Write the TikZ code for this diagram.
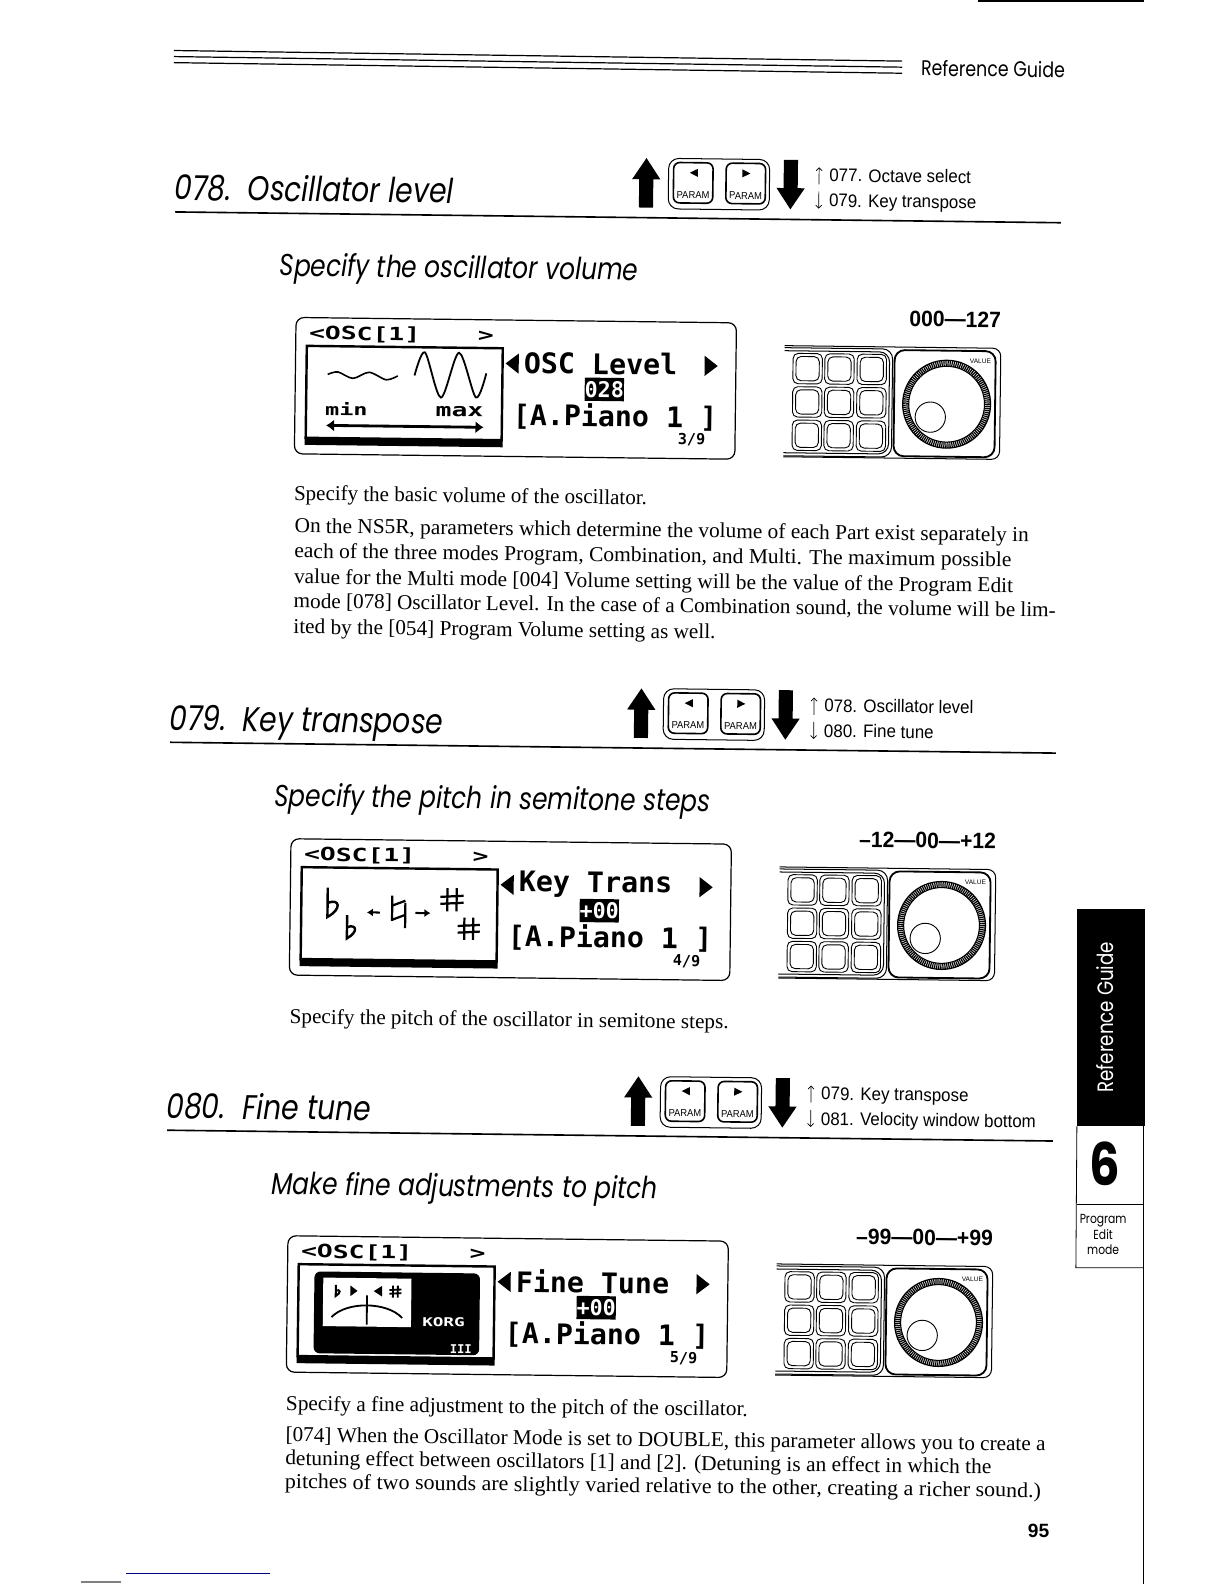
\documentclass[tikz,border=0pt]{standalone}
\usepackage{fontspec}
\usepackage{tikz}
\usetikzlibrary{arrows.meta}
\setmainfont{Liberation Serif}
\newfontfamily\headfont[FakeStretch=0.82]{Poppins}
\newfontfamily\helvfont{Liberation Sans}
\newfontfamily\navfont[FakeStretch=0.93]{Liberation Sans}
\newfontfamily\lcdfont{DejaVu Sans Mono}
\newfontfamily\lcdwide[FakeStretch=1.45]{DejaVu Sans Mono}
\newcommand{\fsz}[1]{\fontsize{#1}{#1}\selectfont}
\newcommand{\flatglyph}[4]{\draw [line width=#4] (#1,#2) -- (#1,#2+#3) .. controls (#1+0.5*#3,#2+0.72*#3) and (#1+0.42*#3,#2+0.35*#3) .. (#1,#2+0.52*#3);}
\newcommand{\sharpglyph}[4]{\draw [line width=#4] (#1+0.3*#3,#2) -- (#1+0.3*#3,#2+#3) (#1+0.7*#3,#2) -- (#1+0.7*#3,#2+#3) (#1,#2+0.38*#3) -- (#1+#3,#2+0.32*#3) (#1,#2+0.68*#3) -- (#1+#3,#2+0.62*#3);}

\begin{document}
\begin{tikzpicture}[x=1pt,y=-1pt,
  tilted/.style={rotate around={-0.7:(600,320)},transform shape},
  titletext/.style={anchor=base west,inner sep=0pt,font=\headfont\itshape\fsz{34}},
  subtext/.style={anchor=base west,inner sep=0pt,font=\headfont\itshape\fsz{30}},
  navtext/.style={anchor=base west,inner sep=0pt,font=\navfont\fsz{18}},
  bodytext/.style={anchor=base west,inner sep=0pt,font=\fsz{21}\addfontfeature{FakeStretch=#1}},
  bodytext/.default=1,
  lcdtext/.style={inner sep=0pt,font=\lcdfont\bfseries\fsz{28}},
  lcdhead/.style={inner sep=0pt,font=\lcdwide\bfseries\fsz{18}},
  keybtn/.style={draw,line width=0.9pt,rounded corners=5pt},
  panelline/.style={line width=1pt,rounded corners=10pt}]
\useasboundingbox (0,0) rectangle (1212,1568);

% page furniture
\draw [line width=1.5pt] (968,1) -- (1132,1);
\draw [line width=1pt] (1132,900) -- (1132,1568);
\draw [line width=1pt,color=blue!50!black] (125,1558) -- (267,1558);
\draw [line width=1.2pt,color=gray] (80,1566) -- (120,1566);
\foreach \y in {50,56,62}
\draw [line width=1.2pt] (172,\y) -- (893,\y+10.5);
\node [rotate=-0.7,inner sep=0pt,font=\headfont\fsz{21}] (guidehead) at (983,68) {Reference Guide};

% side tab
\fill (1066,900) rectangle (1133,1115);
\node [rotate=90,inner sep=0pt,text=white,font=\headfont\fsz{22}] (guidetab) at (1094,1007) {Reference Guide};
\draw [line width=0.8pt] (1066,1115) -- (1065,1255) -- (1132,1255);
\draw [line width=0.8pt] (1066,1192) -- (1132,1192);
\node [inner sep=0pt,font=\headfont\bfseries\fsz{58}] (tabsix) at (1094,1152) {6};
\node [inner sep=0pt,align=center,font=\headfont\fontsize{13}{15}\selectfont] (tabmode) at (1092,1222) {Program\\Edit\\mode};

\foreach \hx/\hy/\px/\py/\secno/\sectitle/\subtitle/\upitem/\downitem/\valrange/\param/\curval/\pageno in {
0/0/0/0/078./Oscillator level/Specify the oscillator volume/077. Octave select/079. Key transpose/000—127/OSC Level/028/3,
-5/525/-5/516/079./Key transpose/Specify the pitch in semitone steps/078. Oscillator level/080. Fine tune/–12—00—+12/Key Trans/+00/4,
-8/909/-8/909/080./Fine tune/Make fine adjustments to pitch/079. Key transpose/081. Velocity window bottom/–99—00—+99/Fine Tune/+00/5}
{
\begin{scope}[shift={(\hx,\hy)},tilted]
\draw [line width=1.6pt] (172,215) -- (1049,215);
\node [titletext] (title\pageno) at (171,203) {\secno\ \ \sectitle};
\node [subtext] (sub\pageno) at (276,277) {\subtitle};
% up arrow, param keys, down arrow
\fill (638,156) -- (652,177) -- (645,177) -- (645,205) -- (631,205) -- (631,177) -- (624,177) -- cycle;
\draw [line width=1pt,rounded corners=10pt] (660,156) rectangle (760,206);
\foreach \kx in {665,717}
\draw [line width=1.6pt,rounded corners=6pt] (\kx,160) rectangle ++(39,40);
\fill (689,166) -- (689,174) -- (681,170) -- cycle;
\fill (733,166) -- (733,174) -- (741,170) -- cycle;
\node [inner sep=0pt,font=\navfont\fsz{10}] (keyleft\pageno) at (684.5,192) {PARAM};
\node [inner sep=0pt,font=\navfont\fsz{10}] (keyright\pageno) at (736.5,192) {PARAM};
\fill (781,205) -- (795,184) -- (788,184) -- (788,156) -- (774,156) -- (774,184) -- (767,184) -- cycle;
% cross references
\draw [-{Straight Barb[length=3pt,width=6pt]},line width=0.7pt] (809,180) -- (809,163);
\draw [-{Straight Barb[length=3pt,width=6pt]},line width=0.7pt] (809,187) -- (809,204);
\node [navtext] (upref\pageno) at (819,177) {\upitem};
\node [navtext] (downref\pageno) at (819,202) {\downitem};
\end{scope}
\begin{scope}[shift={(\px,\py)},tilted]
% lcd
\draw [line width=1.2pt,rounded corners=8pt] (293,318) rectangle (729,453);
\node [lcdhead,anchor=west] (lcdname\pageno) at (306,334) {<OSC[1]};
\node [lcdhead] (lcdmore\pageno) at (481,334) {>};
\draw [line width=2.4pt] (304,346) rectangle (498,437);
\fill (303,437) rectangle (499,444);
\fill (501,361) -- (514,351) -- (514,371) -- cycle;
\fill (698,351) -- (698,371) -- (711,361) -- cycle;
\node [lcdtext,anchor=west] (param\pageno) at (519,360) {\param};
\node [fill=black,text=white,inner sep=0pt,minimum width=38pt,minimum height=23pt,font=\lcdfont\bfseries\fsz{21.5}] (value\pageno) at (599,385.5) {\curval};
\node [lcdtext] (prog\pageno) at (610,412.5) {[A.Piano 1 ]};
\node [inner sep=0pt,font=\lcdfont\bfseries\fsz{15}] (page\pageno) at (686,434.5) {\pageno/9};
% value dial
\node [anchor=east,inner sep=0pt,font=\helvfont\bfseries\fsz{22}\addfontfeature{FakeStretch=0.95}] (range\pageno) at (991,312) {\valrange};
\draw [line width=1pt] (777,340) -- (980,340) [rounded corners=8pt] -- (991,340) -- (991,450) -- (777,450);
\draw [panelline] (777,342) -- (884,342) -- (884,449) -- (777,449);
\draw [panelline] (777,345) -- (881,345) -- (881,446) -- (777,446);
\draw [line width=1.8pt,rounded corners=10pt] (886,343) rectangle (986,448);
\foreach \cx in {785.5,817,849}
\foreach \cy in {347.5,380.5,413.5}
{
\draw [keybtn] (\cx,\cy) rectangle ++(29,30);
\draw [keybtn] (\cx+3,\cy+3) rectangle ++(23,24);
}
\draw [line width=6pt,dash pattern=on 1.2pt off 0.8pt] (938,396) circle [radius=40.5pt];
\draw [line width=1.2pt] (938,396) circle [radius=43.5pt];
\draw [line width=1pt] (938,396) circle [radius=37.5pt];
\draw [line width=0.9pt,fill=white] (922,409) circle [radius=15pt];
\node [inner sep=0pt,font=\helvfont\fsz{6.5}] (dialname\pageno) at (971,353) {VALUE};
\end{scope}
}

% lcd picture 078
\begin{scope}[tilted]
\draw [line width=1.6pt,smooth] plot coordinates {(325,374) (335,371.4) (350,377.6) (366,371.4) (383,378.6) (394.4,374.6)};
\draw [line width=1.8pt,smooth] plot coordinates {(411,374) (421,351) (437.4,395.5) (454.8,351) (472,395) (482,371)};
\node [inner sep=0pt,font=\lcdwide\bfseries\fsz{16}] (minlabel) at (344,408) {min};
\node [inner sep=0pt,font=\lcdwide\bfseries\fsz{18}] (maxlabel) at (456,409.5) {max};
\coordinate (minend) at (324,424.5);
\coordinate (maxend) at (480,424.5);
\draw [{Latex[length=8pt,width=12pt]}-{Latex[length=8pt,width=12pt]},line width=2.8pt] (minend) -- (maxend);
\end{scope}

% lcd picture 079
\begin{scope}[shift={(-5,516)},tilted]
\flatglyph{330}{366}{29}{2.4pt}
\flatglyph{349.5}{393}{23}{2.4pt}
\coordinate (leftstart) at (382,390);
\coordinate (leftend) at (369,390);
\draw [-{Latex[length=6pt,width=8pt]},line width=2pt] (leftstart) -- (leftend);
\draw [line width=2.2pt] (394,373) -- (394,398) (407,380) -- (407,405) (394,383) -- (407,378) (394,397) -- (407,392);
\coordinate (rightstart) at (417,390);
\coordinate (rightend) at (432,390);
\draw [-{Latex[length=6pt,width=8pt]},line width=2pt] (rightstart) -- (rightend);
\sharpglyph{441.6}{365}{23}{2.2pt}
\sharpglyph{459}{394}{22}{2.2pt}
\end{scope}

% lcd picture 080
\begin{scope}[shift={(-8,909)},tilted]
\fill [rounded corners=6pt] (319.7,353) rectangle (483.6,434);
\fill [white] (328.5,359) rectangle (415.8,407);
\flatglyph{341}{366}{11}{2pt}
\fill (355.5,366.5) -- (355.5,377) -- (362.5,371.8) -- cycle;
\fill (386.8,366.5) -- (386.8,377) -- (378.6,371.8) -- cycle;
\sharpglyph{394}{366}{12}{1.8pt}
\draw [line width=1.8pt] (337,398) .. controls (352,382) and (392,382) .. (407,398);
\draw [line width=1.8pt] (372,376) -- (372,405);
\node [inner sep=0pt,text=white,font=\lcdwide\bfseries\fsz{12}] (korgname) at (448,401.7) {KORG};
\node [inner sep=0pt,text=white,font=\lcdfont\bfseries\fsz{12}] (korglogo) at (465.5,428) {III};
\end{scope}

% body text
\begin{scope}[tilted]
\node [bodytext=0.99] (intro) at (293,499) {Specify the basic volume of the oscillator.};
\node [bodytext=1.005] (lineone) at (294,531) {On the NS5R, parameters which determine the volume of each Part exist separately in};
\node [bodytext=1.015] (linetwo) at (294,556) {each of the three modes Program, Combination, and Multi. The maximum possible};
\node [bodytext=1.005] (linethree) at (294,581.5) {value for the Multi mode [004] Volume setting will be the value of the Program Edit};
\node [bodytext=0.998] (linefour) at (294,605.5) {mode [078] Oscillator Level. In the case of a Combination sound, the volume will be lim-};
\node [bodytext] (linefive) at (294,631) {ited by the [054] Program Volume setting as well.};
\node [bodytext] (pitchline) at (295,1017) {Specify the pitch of the oscillator in semitone steps.};
\node [bodytext=1.005] (fineline) at (296,1400) {Specify a fine adjustment to the pitch of the oscillator.};
\node [bodytext] (modeone) at (296,1431) {[074] When the Oscillator Mode is set to DOUBLE, this parameter allows you to create a};
\node [bodytext=1.011] (modetwo) at (296,1454) {detuning effect between oscillators [1] and [2]. (Detuning is an effect in which the};
\node [bodytext=1.036] (modethree) at (296,1477) {pitches of two sounds are slightly varied relative to the other, creating a richer sound.)};
\end{scope}
\node [inner sep=0pt,font=\helvfont\bfseries\fsz{19}] (pagenum) at (1028,1515) {95};
\end{tikzpicture}
\end{document}
